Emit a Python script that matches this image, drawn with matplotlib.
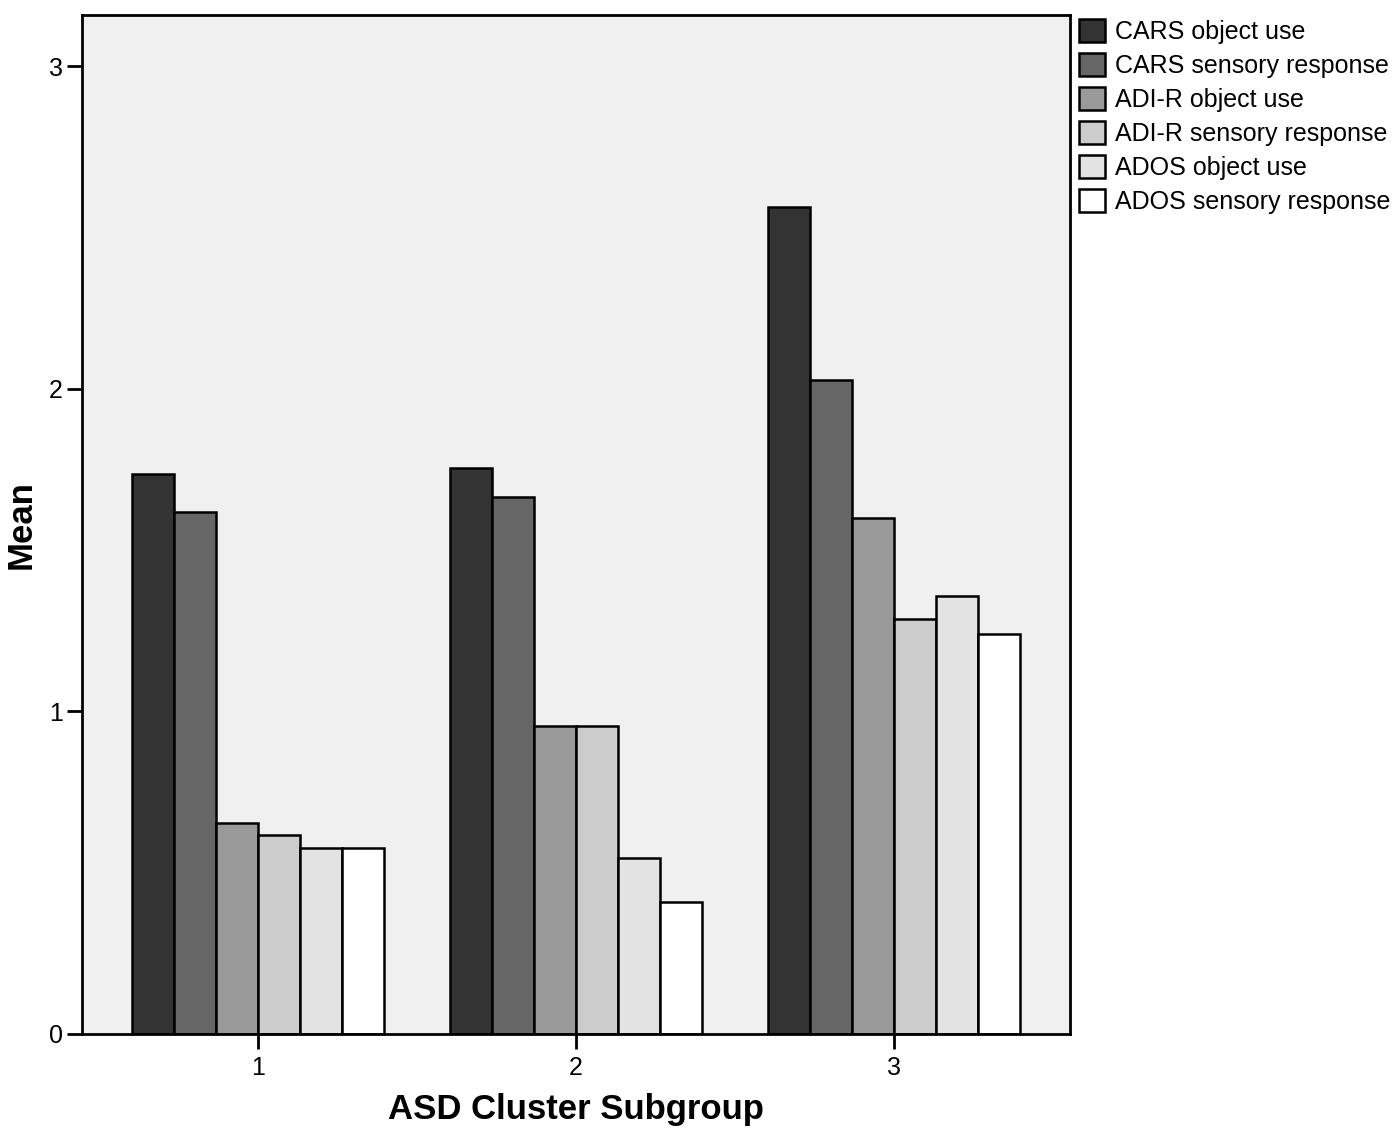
import numpy as np
import matplotlib.pyplot as plt
from matplotlib.patches import Patch

plt.rcParams['font.family'] = ['Liberation Sans', 'DejaVu Sans']

groups = [1, 2, 3]
series = ['CARS object use', 'CARS sensory response', 'ADI-R object use',
          'ADI-R sensory response', 'ADOS object use', 'ADOS sensory response']
values = [
    [1.735, 1.754, 2.563],
    [1.618, 1.664, 2.027],
    [0.654, 0.954, 1.599],
    [0.617, 0.954, 1.286],
    [0.576, 0.545, 1.357],
    [0.576, 0.409, 1.240],
]
colors = ['#333333', '#666666', '#999999', '#cccccc', '#e3e3e3', '#ffffff']

fig = plt.figure(figsize=(13.94, 11.31), dpi=100)
ax = fig.add_axes([0.0588, 0.0858, 0.7088, 0.9009])
ax.set_facecolor('#f0f0f0')

width = 0.132
x = np.array(groups, dtype=float)
for i, (name, vals) in enumerate(zip(series, values)):
    offset = (i - 2.5) * width
    ax.bar(x + offset, vals, width, color=colors[i], edgecolor='black',
           linewidth=1.8, label=name)

ax.set_xlim(0.447, 3.553)
ax.set_ylim(0, 3.158)
ax.set_xticks(groups)
ax.set_yticks([0, 1, 2, 3])
ax.tick_params(axis='both', direction='out', length=11, width=2, labelsize=18, pad=3)
ax.tick_params(axis='x', pad=5)
for sp in ax.spines.values():
    sp.set_linewidth(2)

ax.set_xlabel('ASD Cluster Subgroup', fontsize=25, fontweight='bold', labelpad=9)
ax.set_ylabel('Mean', fontsize=25, fontweight='bold', labelpad=8)

handles = [Patch(facecolor=c, edgecolor='black', linewidth=1.8) for c in colors]
fig.legend(handles, series, loc='upper left', bbox_to_anchor=(0.774, 0.983),
           frameon=False, fontsize=18, handlelength=1.05, handleheight=1.05,
           handletextpad=0.4, labelspacing=0.35, borderpad=0.0, borderaxespad=0)

fig.savefig('out.png', dpi=100)
